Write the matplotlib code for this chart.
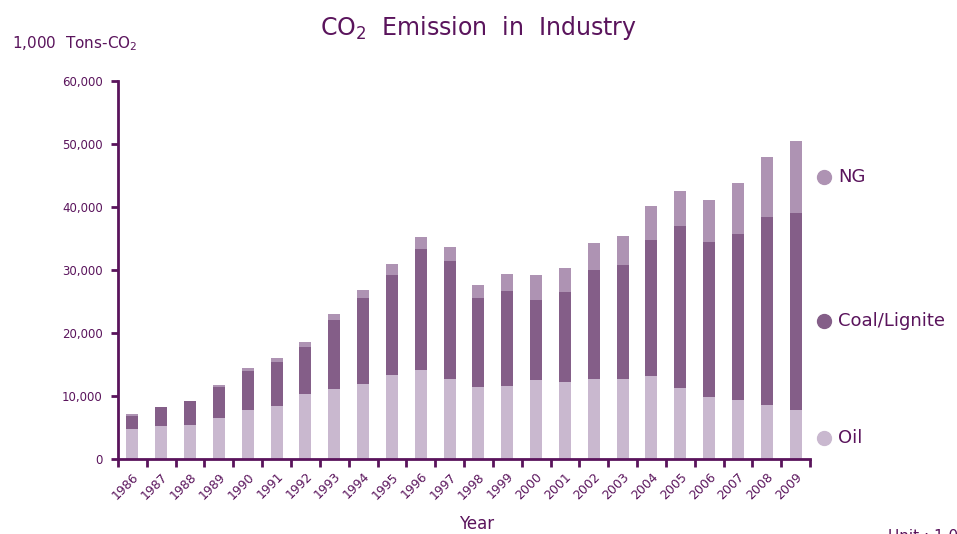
import numpy as np
import matplotlib
matplotlib.use('Agg')
import matplotlib.pyplot as plt
from matplotlib.lines import Line2D

years = [str(y) for y in range(1986, 2010)]
oil = [4760, 5240, 5400, 6510, 7780, 8410, 10320, 11110, 11900, 13330, 14130, 12700,
       11430, 11590, 12540, 12220, 12700, 12700, 13170, 11270, 9840, 9370, 8570, 7780]
coal = [2070, 3010, 3800, 4970, 6190, 6990, 7460, 10950, 13660, 15880, 19200, 18730,
        14130, 15080, 12700, 14290, 17300, 18090, 21590, 25710, 24600, 26340, 29840, 31270]
ng = [310, 0, 0, 270, 470, 630, 790, 960, 1270, 1740, 1910, 2220,
      2060, 2700, 3970, 3810, 4290, 4610, 5400, 5560, 6670, 8100, 9530, 11430]

c_oil = '#c9b8cf'
c_coal = '#845e88'
c_ng = '#ae93b3'
dark = '#5a145c'

plt.rcParams['font.family'] = ['DejaVu Sans']

fig = plt.figure(figsize=(9.57, 5.34), dpi=100)
ax = fig.add_axes([0.1233, 0.1404, 0.7231, 0.7079])

x = np.arange(len(years))
oil = np.array(oil)
coal = np.array(coal)
ng = np.array(ng)
w = 0.42
ax.bar(x, oil, w, color=c_oil)
ax.bar(x, coal, w, bottom=oil, color=c_coal)
ax.bar(x, ng, w, bottom=oil + coal, color=c_ng)

ax.set_xlim(-0.5, len(years) - 0.5)
ax.set_ylim(0, 60000)
ax.set_yticks(range(0, 60001, 10000))
ax.set_yticklabels([f'{v:,}' for v in range(0, 60001, 10000)],
                   fontsize=8.5, color=dark)
ax.set_xticks(np.arange(-0.5, len(years), 1.0))
ax.set_xticklabels([])
ax.set_xticks(x, minor=True)
ax.set_xticklabels(years, minor=True, rotation=45, ha='right', va='top',
                   rotation_mode='anchor', fontsize=9, color=dark)
ax.tick_params(axis='x', which='major', length=6, width=2, color=dark, direction='out')
ax.tick_params(axis='x', which='minor', length=0, pad=8)
ax.tick_params(axis='y', length=5, width=2, color=dark, direction='out', pad=6)

for s in ['top', 'right']:
    ax.spines[s].set_visible(False)
for s in ['left', 'bottom']:
    ax.spines[s].set_color(dark)
    ax.spines[s].set_linewidth(2)

# legend labels at right
leg = [('NG', c_ng, 177), ('Coal/Lignite', c_coal, 321), ('Oil', c_oil, 438)]
for name, col, py in leg:
    fy = 1 - py / 534
    fig.add_artist(Line2D([824 / 957], [fy], transform=fig.transFigure,
                          marker='o', markersize=10, color=col, linestyle='none'))
    fig.text(838 / 957, fy, name, fontsize=13, color=dark, va='center', ha='left')

fig.text(0.5, 1 - 28 / 534, r'CO$_2$  Emission  in  Industry', fontsize=17,
         color=dark, ha='center', va='center')
fig.text(12 / 957, 1 - 44 / 534, r'1,000  Tons-CO$_2$', fontsize=11,
         color=dark, ha='left', va='center')
fig.text(477 / 957, 1 - 524 / 534, 'Year', fontsize=12, color=dark,
         ha='center', va='center')
fig.text(888 / 957, 1 - 529 / 534, 'Unit : 1,000 Tons-CO2', fontsize=11,
         color=dark, ha='left', va='top')

fig.savefig('out.png', dpi=100)
